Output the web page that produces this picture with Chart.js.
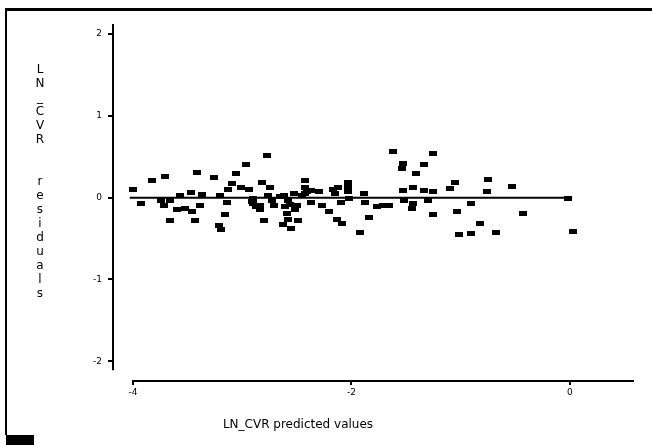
<!DOCTYPE html>
<html>
<head>
<meta charset="utf-8">
<script src="https://cdn.jsdelivr.net/npm/chart.js@4/dist/chart.umd.min.js"></script>
<style>
  html, body { margin: 0; padding: 0; background: #fff; }
  #wrap { position: relative; width: 652px; height: 445px; overflow: hidden; }
  #frame { position: absolute; left: 5px; top: 8px; right: -4px; bottom: 10px; border-top: 3px solid #000; border-left: 2px solid #000; }
  #tab { position: absolute; left: 6px; top: 435px; width: 28px; height: 10px; background: #000; }
  #residualChart { position: absolute; left: 0; top: 0; }
</style>
</head>
<body>
<div id="wrap">
  <div id="frame"></div>
  <div id="tab"></div>
  <canvas id="residualChart" width="652" height="445"></canvas>
</div>
<script>
// predicted LN_CVR values (x) and their residuals (y)
const predicted = [
  -4.00, -3.93, -3.83, -3.71, -3.72, -3.74, -3.66, -3.66, -3.60, -3.57,
  -3.52, -3.47, -3.46, -3.43, -3.41, -3.39, -3.37, -3.26, -3.20, -3.21,
  -3.19, -3.14, -3.16, -3.13, -3.09, -3.06, -2.97, -3.01, -2.94, -2.90,
  -2.90, -2.87, -2.84, -2.82, -2.80, -2.77, -2.75, -2.76, -2.73, -2.71,
  -2.65, -2.62, -2.61, -2.59, -2.58, -2.56, -2.55, -2.53, -2.52, -2.49,
  -2.45, -2.43, -2.43, -2.41, -2.37, -2.37, -2.30, -2.27, -2.21, -2.17,
  -2.15, -2.12, -2.13, -2.10, -2.09, -2.03, -2.02, -2.03, -1.89, -1.88,
  -1.92, -1.84, -1.77, -1.71, -1.66, -1.62, -1.53, -1.54, -1.53, -1.52,
  -1.44, -1.44, -1.45, -1.41, -1.34, -1.34, -1.30, -1.25, -1.25, -1.25,
  -1.10, -1.05, -1.03, -1.02, -0.91, -0.91, -0.82, -0.76, -0.75, -0.68,
  -0.53, -0.43, -0.02, 0.03,
  -2.91, -2.84, -2.43, -2.03, -2.58, -2.50, -2.63
];
const residuals = [
  0.10, -0.07, 0.21, 0.26, -0.10, -0.03, -0.03, -0.28, -0.14, 0.03,
  -0.13, 0.06, -0.17, -0.28, 0.31, -0.10, 0.04, 0.25, 0.03, -0.34,
  -0.39, -0.06, -0.20, 0.10, 0.17, 0.30, 0.40, 0.13, 0.10, -0.01,
  -0.07, -0.11, -0.15, 0.19, -0.28, 0.51, 0.13, 0.03, -0.04, -0.10,
  0.01, 0.03, -0.11, -0.19, -0.27, -0.08, -0.38, 0.05, -0.15, -0.28,
  0.03, 0.21, 0.13, 0.07, -0.06, 0.09, 0.08, -0.09, -0.17, 0.10,
  0.05, 0.13, -0.27, -0.06, -0.32, 0.18, -0.01, 0.13, 0.05, -0.06,
  -0.42, -0.24, -0.11, -0.10, -0.09, 0.56, 0.42, 0.36, 0.09, -0.03,
  0.12, -0.07, -0.13, 0.29, 0.09, 0.40, -0.04, 0.54, 0.08, -0.20,
  0.11, 0.18, -0.17, -0.45, -0.07, -0.44, -0.31, 0.08, 0.22, -0.42,
  0.14, -0.19, -0.01, -0.41,
  -0.05, -0.09, 0.05, 0.07, -0.03, -0.10, -0.33
];

// fitted line (residual = 0)
const fitX = [-4.03, 0.02];
const fitY = [0, 0];

const xTicks = [-4, -2, 0];
const yTicks = [-2, -1, 0, 1, 2];

const xTitle = 'LN_CVR predicted values';
const yTitle = 'LN_CVR  residuals';

// small filled rectangle used as the point marker
const mark = document.createElement('canvas');
mark.width = 8;
mark.height = 5;
const mctx = mark.getContext('2d');
mctx.fillStyle = '#000';
mctx.fillRect(0, 0, 8, 5);

const tickFont = { family: 'DejaVu Sans', size: 9 };

// axis lines are drawn by hand so they can stop short like the original plot
const axisLines = {
  id: 'axisLines',
  afterDraw(chart) {
    const { ctx, chartArea, scales } = chart;
    ctx.save();
    ctx.strokeStyle = '#000';
    ctx.lineWidth = 2;
    ctx.beginPath();
    ctx.moveTo(scales.x.getPixelForValue(-4) - 1, chartArea.bottom);
    ctx.lineTo(chartArea.right, chartArea.bottom);
    ctx.moveTo(chartArea.left, chartArea.top);
    ctx.lineTo(chartArea.left, scales.y.getPixelForValue(-2.11));
    ctx.stroke();
    ctx.restore();
  }
};

// axis titles: horizontal one below the x axis, stacked letters on the left
const axisTitles = {
  id: 'axisTitles',
  afterDraw(chart) {
    const ctx = chart.ctx;
    ctx.save();
    ctx.fillStyle = '#000';
    ctx.font = '12px "DejaVu Sans"';
    ctx.textAlign = 'center';
    ctx.textBaseline = 'middle';
    ctx.fillText(xTitle, 298, 425);
    for (let i = 0; i < yTitle.length; i++) {
      ctx.fillText(yTitle[i], 40, 70 + i * 14);
    }
    ctx.restore();
  }
};

const points = predicted.map((x, i) => ({ x: x, y: residuals[i] }));
const fitLine = fitX.map((x, i) => ({ x: x, y: fitY[i] }));

new Chart(document.getElementById('residualChart'), {
  type: 'scatter',
  data: {
    datasets: [
      {
        data: points,
        pointStyle: mark,
        pointRadius: 4,
        pointHoverRadius: 4
      },
      {
        type: 'line',
        data: fitLine,
        borderColor: '#000',
        borderWidth: 2,
        pointRadius: 0,
        fill: false
      }
    ]
  },
  options: {
    responsive: false,
    animation: false,
    devicePixelRatio: 1,
    layout: { padding: { top: 24, right: 18, left: 0, bottom: 0 } },
    plugins: {
      legend: { display: false },
      tooltip: { enabled: false }
    },
    scales: {
      x: {
        type: 'linear',
        min: -4.183,
        max: 0.586,
        afterBuildTicks: s => { s.ticks = xTicks.map(v => ({ value: v })); },
        afterFit: s => { s.height = 64; },
        border: { display: false },
        grid: { drawOnChartArea: false, drawTicks: true, tickLength: 4, color: '#000', lineWidth: 2 },
        ticks: { color: '#000', font: tickFont, padding: 2, maxRotation: 0, autoSkip: false }
      },
      y: {
        type: 'linear',
        min: -2.242,
        max: 2.124,
        afterBuildTicks: s => { s.ticks = yTicks.map(v => ({ value: v })); },
        afterFit: s => { s.width = 113; },
        border: { display: false },
        grid: { drawOnChartArea: false, drawTicks: true, tickLength: 5, color: '#000', lineWidth: 2 },
        ticks: { color: '#000', font: tickFont, padding: 6, autoSkip: false }
      }
    }
  },
  plugins: [axisLines, axisTitles]
});
</script>
</body>
</html>
